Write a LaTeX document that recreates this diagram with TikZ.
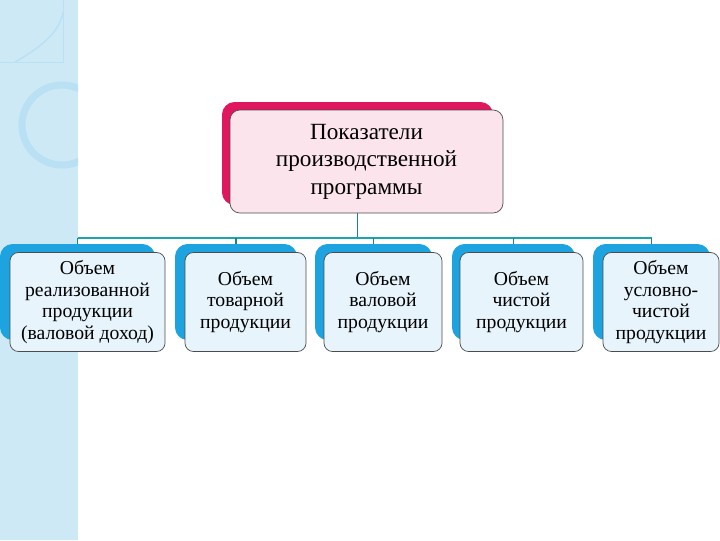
\documentclass[tikz,border=0pt]{standalone}
\usepackage{fontspec}
\setmainfont{Liberation Serif}
\usepackage{tikz}
\usetikzlibrary{positioning,calc}
\definecolor{stripBlue}{HTML}{CDE9F5}
\definecolor{ringBlue}{HTML}{B9E0F3}
\definecolor{topRed}{HTML}{E0165E}
\definecolor{topFill}{HTML}{FCE4EC}
\definecolor{subBlue}{HTML}{1CA3E0}
\definecolor{subFill}{HTML}{E7F4FB}
\definecolor{busTeal}{HTML}{1BA6AE}

\begin{document}
\begin{tikzpicture}[
  x=0.025cm, y=-0.025cm,
  back/.style={fill=subBlue, rounded corners=9pt, minimum height=96*0.025cm},
  front/.style={draw=gray!60!black, line width=0.5pt, fill=subFill, rounded corners=6pt,
    minimum height=99*0.025cm, align=center, inner sep=1pt,
    font=\fontsize{14}{15.5}\selectfont},
  bus/.style={draw=busTeal, line width=2pt},
  drop/.style={draw=busTeal!80!black, line width=0.8pt}
]
\useasboundingbox (0,0) rectangle (720,540);
% left strip
\fill[stripBlue] (0,0) rectangle (78,540);
\begin{scope}
  \clip (0,0) rectangle (78,540);
  \draw[ringBlue, line width=5pt] (62,125) circle (40);
  \draw[ringBlue, line width=0.6pt] (0,62) -- (63,62) -- (63,0);
  \draw[ringBlue, line width=1pt] (15,62) .. controls (45,45) and (60,30) .. (63,12);
\end{scope}

% top box
\node[fill=topRed, rounded corners=9pt, minimum width=271*0.025cm, minimum height=103*0.025cm]
  (topB) at (357.5,153.5) {};

% second row, back shapes
\node[back, minimum width=155*0.025cm] (b1) at (77.5,292) {};
\node[back, minimum width=122*0.025cm] (b2) at (236,292) {};
\node[back, minimum width=117*0.025cm] (b3) at (373.5,292) {};
\node[back, minimum width=123*0.025cm] (b4) at (513.5,292) {};
\node[back, minimum width=117*0.025cm] (b5) at (651.5,292) {};

% connectors
\coordinate (busL) at (b1.north |- 0,238);
\coordinate (busR) at (b5.north |- 0,238);
\coordinate (busM) at (topB.south |- 0,238);
\draw[drop] (topB.south) -- (busM);
\draw[bus] (busL) -- (busR);
\foreach \b in {b1,b2,b3,b4,b5}
  \draw[drop] (\b.north |- busL) -- (\b.north);

% front boxes
\node[draw=gray!60!black, line width=0.5pt, fill=topFill, rounded corners=7pt,
  minimum width=273*0.025cm, minimum height=103*0.025cm, align=center,
  font=\fontsize{16.5}{19.5}\selectfont] (top) at (366.5,161.5)
  {Показатели\\производственной\\программы};
\node[front, minimum width=155*0.025cm] (f1) at (87.5,302)
  {Объем\\реализованной\\продукции\\(валовой доход)};
\node[front, minimum width=121*0.025cm] (f2) at (245.5,302)
  {Объем\\товарной\\продукции};
\node[front, minimum width=118*0.025cm] (f3) at (383,302)
  {Объем\\валовой\\продукции};
\node[front, minimum width=123*0.025cm] (f4) at (521.5,302)
  {Объем\\чистой\\продукции};
\node[front, minimum width=116*0.025cm] (f5) at (661,302)
  {Объем\\условно-\\чистой\\продукции};
\end{tikzpicture}
\end{document}
